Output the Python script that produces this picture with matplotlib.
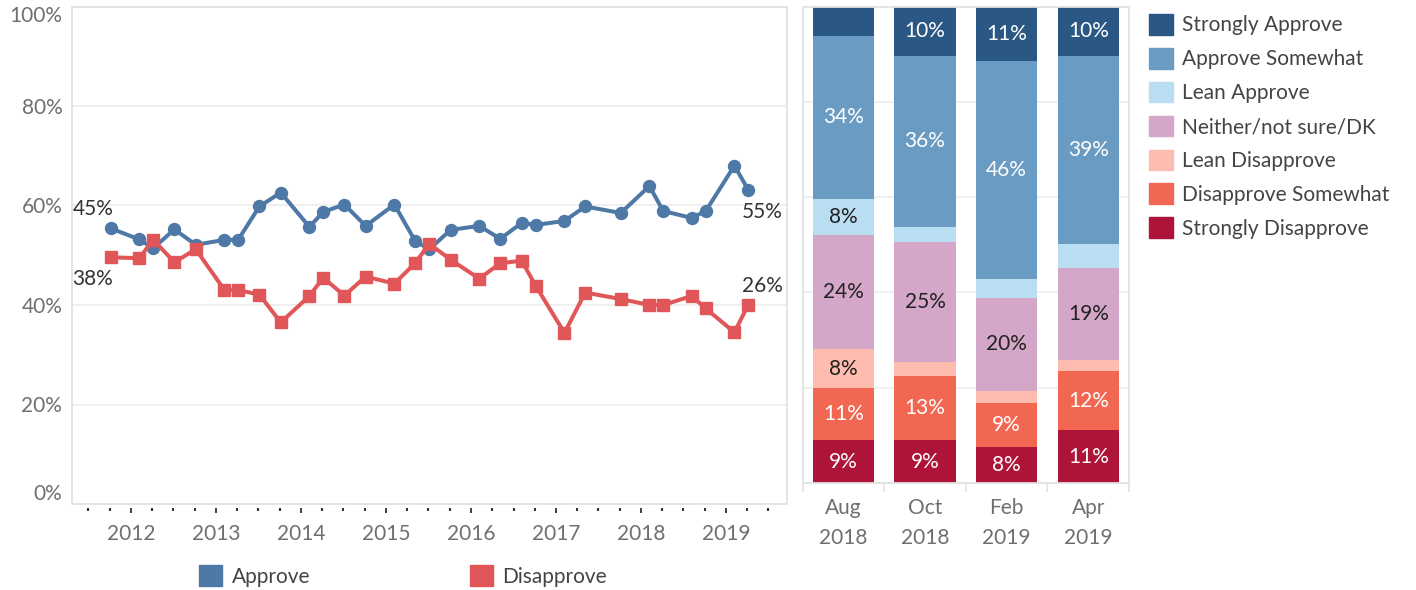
import matplotlib
matplotlib.use("Agg")
import matplotlib.pyplot as plt
import matplotlib.dates as mdates
from matplotlib.patches import Patch, Rectangle
import pandas as pd
import numpy as np

plt.rcParams['font.family'] = ['Lato', 'DejaVu Sans']

# ---------------- data ----------------
survey_dates = ['2011-10', '2012-02', '2012-04', '2012-07', '2012-10', '2013-02', '2013-04',
                '2013-07', '2013-10', '2014-02', '2014-04', '2014-07', '2014-10', '2015-02',
                '2015-05', '2015-07', '2015-10', '2016-02', '2016-05', '2016-08', '2016-10',
                '2017-02', '2017-05', '2017-10', '2018-02', '2018-04', '2018-08', '2018-10',
                '2019-02', '2019-04']
approve = [55.4, 53.2, 51.4, 55.2, 52.1, 53.1, 53.1, 59.8, 62.6, 55.7, 58.7, 60.2, 55.9, 60.2,
           52.9, 51.2, 55.1, 55.9, 53.3, 56.5, 56.1, 56.9, 59.8, 58.5, 63.9, 58.9, 57.5, 58.9,
           68.0, 63.2]
disapprove = [49.6, 49.4, 53.1, 48.6, 51.2, 43.0, 43.0, 42.1, 36.5, 41.8, 45.5, 41.9, 45.7, 44.3,
              48.4, 52.3, 49.1, 45.3, 48.4, 48.9, 43.8, 34.4, 42.5, 41.2, 40.0, 40.0, 41.8, 39.3,
              34.5, 40.0]
line_labels_first = ['45%', '38%']   # approve, disapprove
line_labels_last = ['55%', '26%']

bar_periods = ['Aug\n2018', 'Oct\n2018', 'Feb\n2019', 'Apr\n2019']
categories = ['Strongly Approve', 'Approve Somewhat', 'Lean Approve', 'Neither/not sure/DK',
              'Lean Disapprove', 'Disapprove Somewhat', 'Strongly Disapprove']
strongly_approve = [6.1, 10.3, 11.3, 10.4]
approve_somewhat = [34.2, 35.9, 45.8, 39.4]
lean_approve = [7.6, 3.2, 4.0, 5.0]
neither = [24.0, 25.3, 19.6, 19.4]
lean_disapprove = [8.2, 2.9, 2.5, 2.3]
disapprove_somewhat = [10.9, 13.4, 9.2, 12.4]
strongly_disapprove = [9.0, 9.0, 7.6, 11.1]

cat_colors = ['#2b5784', '#6a9bc3', '#b9ddf1', '#d4a6c8', '#fdbcad', '#f26752', '#ae1338']
cat_text = ['white', 'white', '#222222', '#222222', '#222222', 'white', 'white']

APPROVE_C = '#4e79a7'
DISAPPROVE_C = '#e15759'
GRID_C = '#eeeeee'
BORDER_C = '#e2e2e2'
TICKLAB_C = '#6f6f6f'
FS = 15

W, H = 1416, 590
fig = plt.figure(figsize=(W / 100, H / 100), dpi=100)

# ---------------- left line chart ----------------
ax = fig.add_axes([72 / W, 1 - 504 / H, (787 - 72) / W, (504 - 6.5) / H])
dates = pd.to_datetime([d + '-05' for d in survey_dates])

ax.plot(dates, approve, color=APPROVE_C, lw=2.9, marker='o', ms=8.6, zorder=3)
ax.plot(dates, disapprove, color=DISAPPROVE_C, lw=2.9, marker='s', ms=8.4, zorder=3)

ax.set_xlim(pd.Timestamp('2011-04-22'), pd.Timestamp('2019-09-19'))
ax.set_ylim(0, 100)
ax.set_yticks([0, 20, 40, 60, 80, 100])
ax.set_yticklabels(['0%', '20%', '40%', '60%', '80%', '100%'])
ylabs = ax.get_yticklabels()
ylabs[0].set_va('bottom')
ylabs[-1].set_va('top')
ax.tick_params(axis='y', length=0, pad=7, labelsize=FS, labelcolor=TICKLAB_C)
for yv in [20, 40, 60, 80]:
    ax.axhline(yv, color=GRID_C, lw=1.3, zorder=0)

ax.xaxis.set_major_locator(mdates.YearLocator())
ax.xaxis.set_major_formatter(mdates.DateFormatter('%Y'))
ax.xaxis.set_minor_locator(mdates.MonthLocator(bymonth=[4, 7, 10]))
ax.tick_params(axis='x', which='major', length=3.8, width=1.3, color='#333333',
               pad=7.5, labelsize=FS, labelcolor=TICKLAB_C)
ax.tick_params(axis='x', which='minor', length=1.8, width=1.5, color='#333333')
for s in ['left', 'right', 'top']:
    ax.spines[s].set_visible(False)
ax.spines['bottom'].set_position(('outward', 3))
ax.spines['bottom'].set_visible(False)
ax.add_patch(Rectangle((0, 0), 1, 1, transform=ax.transAxes, fill=False,
                       edgecolor=BORDER_C, lw=1.3, clip_on=False, zorder=1))

# end labels
ax.annotate(line_labels_first[0], (dates[0], approve[0]), xytext=(-12.2, 13.9),
            textcoords='offset points', ha='center', va='center', fontsize=FS, color='#333333')
ax.annotate(line_labels_first[1], (dates[0], disapprove[0]), xytext=(-13.0, -15.6),
            textcoords='offset points', ha='center', va='center', fontsize=FS, color='#333333')
ax.annotate(line_labels_last[0], (dates[-1], approve[-1]), xytext=(10.5, -16.3),
            textcoords='offset points', ha='center', va='center', fontsize=FS, color='#333333')
ax.annotate(line_labels_last[1], (dates[-1], disapprove[-1]), xytext=(10.5, 13.7),
            textcoords='offset points', ha='center', va='center', fontsize=FS, color='#333333')

fig.legend(handles=[Patch(color=APPROVE_C, label='Approve'),
                    Patch(color=DISAPPROVE_C, label='Disapprove')],
           loc='center left', bbox_to_anchor=(199 / W, 1 - 576 / H), ncol=2, frameon=False,
           borderpad=0, borderaxespad=0, handlelength=1.12, handleheight=1.12,
           handletextpad=0.45, columnspacing=7.65, fontsize=FS, labelcolor='#444444')

# ---------------- right stacked bars ----------------
ax2 = fig.add_axes([802.7 / W, 1 - 483 / H, (1129 - 802.7) / W, (483 - 6.7) / H])
series = [strongly_approve, approve_somewhat, lean_approve, neither,
          lean_disapprove, disapprove_somewhat, strongly_disapprove]
x = np.arange(len(bar_periods))
bottom = np.zeros(len(bar_periods))
for idx in range(len(categories) - 1, -1, -1):
    vals = np.array(series[idx])
    ax2.bar(x, vals, bottom=bottom, width=0.75, color=cat_colors[idx],
            label=categories[idx], zorder=2)
    for xi, v, b in zip(x, vals, bottom):
        if v >= 7:
            ax2.text(xi, b + v / 2, f'{round(v):d}%', ha='center', va='center',
                     fontsize=FS, color=cat_text[idx], zorder=3)
    bottom = bottom + vals

ax2.set_xlim(-0.5, 3.5)
ax2.set_ylim(0, 100)
ax2.set_yticks([])
for yv in [20, 40, 60, 80]:
    ax2.axhline(yv, color=GRID_C, lw=1.3, zorder=0)
ax2.set_xticks(x)
ax2.set_xticklabels(bar_periods, linespacing=1.6)
ax2.set_xticks([-0.5, 0.5, 1.5, 2.5, 3.5], minor=True)
ax2.tick_params(axis='x', which='major', length=0, pad=11, labelsize=FS, labelcolor=TICKLAB_C)
ax2.tick_params(axis='x', which='minor', length=6.5, width=1.2, color=BORDER_C)
for s in ax2.spines.values():
    s.set_color(BORDER_C)
    s.set_linewidth(1.3)

fig.legend(handles=[Patch(color=cat_colors[i], label=categories[i]) for i in range(len(categories))],
           loc='upper left', bbox_to_anchor=(1149 / W, 1 - 14 / H), frameon=False,
           borderpad=0, borderaxespad=0, handlelength=1.15, handleheight=1.15,
           handletextpad=0.43, labelspacing=0.6, fontsize=FS, labelcolor='#444444')

fig.savefig('out.png', dpi=100)
